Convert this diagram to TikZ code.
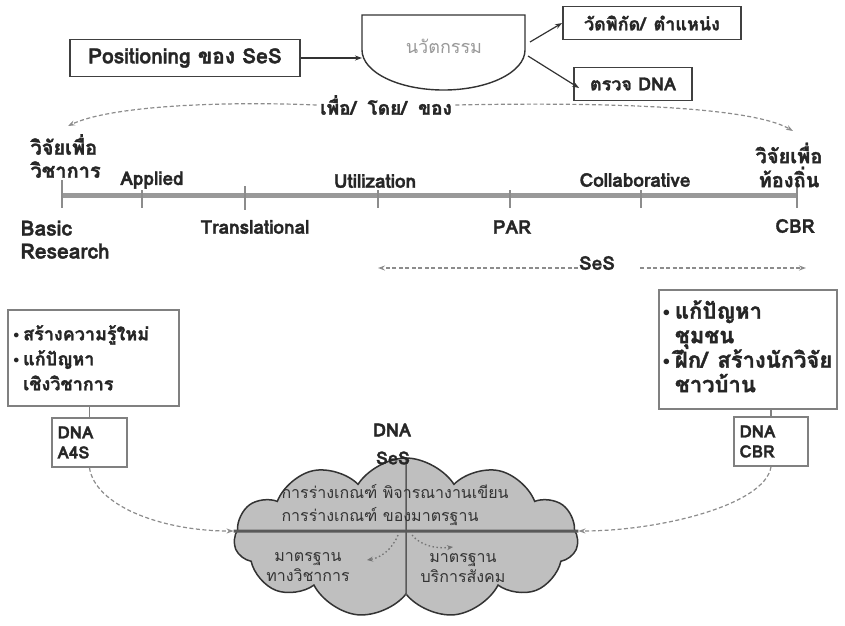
\documentclass[tikz,border=0pt]{standalone}
\usepackage{fontspec}
\setmainfont[Script=Thai]{Loma}
\newfontfamily\heavy[Script=Thai, FakeBold=1.6]{Loma}
\usetikzlibrary{shapes.symbols,arrows.meta}
\newcommand\mybul{\makebox[0.55em][l]{\raisebox{0.2ex}{$\scriptstyle\bullet$}}}
\newcommand\myind{\hspace*{0.55em}}
\newcommand\wsp{\hspace{0.45em}}
\begin{document}
\begin{tikzpicture}[x=1pt,y=-1pt,
  every node/.style={font=\heavy\bfseries\fontsize{19}{22}\selectfont, text=black!85},
  box/.style={draw=black!75, line width=1.8pt, inner sep=3pt},
  gbox/.style={draw=black!50, line width=1.6pt, inner sep=4pt},
  arr/.style={draw=black!80, line width=1.2pt, -{Stealth[length=7pt,width=5pt]}},
  dsh/.style={draw=black!45, line width=1.2pt, dash pattern=on 4pt off 2.5pt, -{Stealth[length=7pt,width=5pt]}},
  dotarr/.style={draw=black!55, line width=1.3pt, dash pattern=on 1.5pt off 2.5pt, -{Stealth[length=6pt,width=5pt]}},
  tick/.style={draw=black!45, line width=2.2pt},
  big/.style={font=\heavy\bfseries\fontsize{21}{24}\selectfont},
  mid/.style={font=\heavy\bfseries\fontsize{18}{21}\selectfont},
  vj/.style={font=\heavy\bfseries\fontsize{20}{23}\selectfont},
  txt/.style={font=\heavy\bfseries\fontsize{18}{25}\selectfont},
  rtxt/.style={font=\heavy\bfseries\fontsize{22}{24.5}\selectfont},
  dtxt/.style={font=\heavy\bfseries\fontsize{17}{20}\selectfont},
  cl/.style={font=\fontsize{16}{20}\selectfont, text=black!80}]
\useasboundingbox (0,0) rectangle (845,625);

% top row
\node[box, big, minimum width=230, minimum height=37] (pos) at (185,58) {Positioning ของ SeS};
\draw[black!80, line width=1.4pt, fill=white] (362,15) -- (362,50)
  arc[start angle=180, end angle=0, x radius=81.5, y radius=40] -- (525,15) -- cycle;
\node[mid, text=black!40, font=\fontsize{18}{21}\selectfont] (innov) at (444,46) {นวัตกรรม};
\coordinate (innovW) at (362,58);
\coordinate (innovE1) at (530,42);
\coordinate (innovE2) at (528,56);
\node[box, mid, minimum width=178, minimum height=33] (vad) at (652,23) {วัดพิกัด/\wsp ตำแหน่ง};
\node[box, mid, minimum width=118, minimum height=33] (dna) at (633,84) {ตรวจ DNA};
\draw[arr] (pos.east) -- (innovW);
\draw[arr] (innovE1) -- (vad.west);
\draw[arr] (innovE2) -- ([xshift=6pt,yshift=-4pt]dna.west);

% purpose arc
\node[font=\heavy\bfseries\fontsize{19}{22}\selectfont] (purp) at (386,105) {เพื่อ/\hspace{0.6em}โดย/\hspace{0.6em}ของ};
\coordinate (ltip) at (68,126);
\coordinate (rtip) at (793,131);
\draw[dsh] (purp.west) .. controls (220,101) and (110,106) .. (ltip);
\draw[dsh] (purp.east) .. controls (600,102) and (750,106) .. (rtip);

% axis
\coordinate (ax0) at (62,195);
\coordinate (ax1) at (797,195);
\draw[black!40, line width=5pt] (ax0) -- (ax1);
\draw[tick] (62,180) -- (62,208);
\draw[tick] (142,190) -- (142,208);
\draw[tick] (245,186) -- (245,210);
\draw[tick] (378,190) -- (378,208);
\draw[tick] (510,190) -- (510,208);
\draw[tick] (641,190) -- (641,208);
\draw[tick] (797,180) -- (797,208);

\node[vj, align=left, anchor=west] (lvj) at (27,156) {วิจัยเพื่อ\\วิชาการ};
\node[vj, align=center, font=\heavy\bfseries\fontsize{20}{24}\selectfont] (rvj) at (789,165) {วิจัยเพื่อ\\ท้องถิ่น};
\node (applied) at (152,180) {Applied};
\node (util) at (375,181) {Utilization};
\node (collab) at (635,180) {Collaborative};
\node (transl) at (255,227) {Translational};
\node (par) at (512,227) {PAR};
\node (cbr) at (795,226) {CBR};
\node[align=left, anchor=north west, font=\heavy\bfseries\fontsize{21}{23}\selectfont] (basic) at (17,217) {Basic\\Research};

% SeS arrows
\node (ses) at (597,263) {SeS};
\coordinate (sesLs) at (578,268);
\coordinate (sesLe) at (378,268);
\coordinate (sesRs) at (640,268);
\coordinate (sesRe) at (806,268);
\draw[dsh] (sesLs) -- (sesLe);
\draw[dsh] (sesRs) -- (sesRe);

% side boxes
\node[gbox, txt, align=left, anchor=north west, minimum width=171, minimum height=96, text width=160] (lb) at (7,309)
  {\mybul สร้างความรู้ใหม่\\\mybul แก้ปัญหา\\\myind เชิงวิชาการ};
\node[gbox, dtxt, minimum width=75, minimum height=49, align=left, text width=64] (a4s) at (89.5,442.5) {DNA\\A4S};
\draw[black!50, line width=1.6pt] (a4s.north |- lb.south) -- (a4s.north);

\node[gbox, rtxt, align=left, anchor=north west, minimum width=178, minimum height=119, text width=170, inner sep=3pt] (rb) at (658,289)
  {\mybul แก้ปัญหา\\\myind ชุมชน\\\mybul ฝึก/\wsp สร้างนักวิจัย\\\myind ชาวบ้าน\vspace{6pt}};
\node[gbox, dtxt, minimum width=74, minimum height=49, align=left, text width=63] (cbrb) at (771,441.5) {DNA\\CBR};
\draw[black!50, line width=1.6pt] (cbrb.north |- rb.south) -- (cbrb.north);

% cloud
\node[cloud, cloud puffs=11, cloud puff arc=115, aspect=2.15, draw=black!80, line width=1.5pt,
  fill=black!25, minimum width=344, minimum height=160, inner sep=0pt] (cloud) at (406,538) {};
\draw[black!65, line width=3pt] ([yshift=7pt]cloud.west) -- ([yshift=7pt]cloud.east);
\draw[black!65, line width=1.5pt] (cloud.north) -- (cloud.south);
\node[mid] (dnal) at (392,430) {DNA};
\node[mid] (sesl) at (393,458) {SeS};

\node[cl, anchor=west] (c1) at (278,492) {การร่างเกณฑ์ พิจารณางานเขียน};
\node[cl, anchor=west] (c2) at (278,517) {การร่างเกณฑ์ ของมาตรฐาน};
\node[cl, align=center] (c3) at (308,567) {มาตรฐาน\\ทางวิชาการ};
\node[cl, align=center] (c4) at (463,568) {มาตรฐาน\\บริการสังคม};
\coordinate (d1s) at (398,535);
\coordinate (d1e) at (367,560);
\coordinate (d2s) at (412,535);
\coordinate (d2e) at (453,547);
\draw[dotarr] (d1s) .. controls (392,550) and (380,558) .. (d1e);
\draw[dotarr] (d2s) .. controls (420,545) and (435,549) .. (d2e);

\draw[dsh] (a4s.south) .. controls (95,505) and (160,531) .. ([yshift=7pt]cloud.west);
\draw[dsh] (cbrb.south) .. controls (765,505) and (660,531) .. ([yshift=7pt]cloud.east);
\end{tikzpicture}
\end{document}
